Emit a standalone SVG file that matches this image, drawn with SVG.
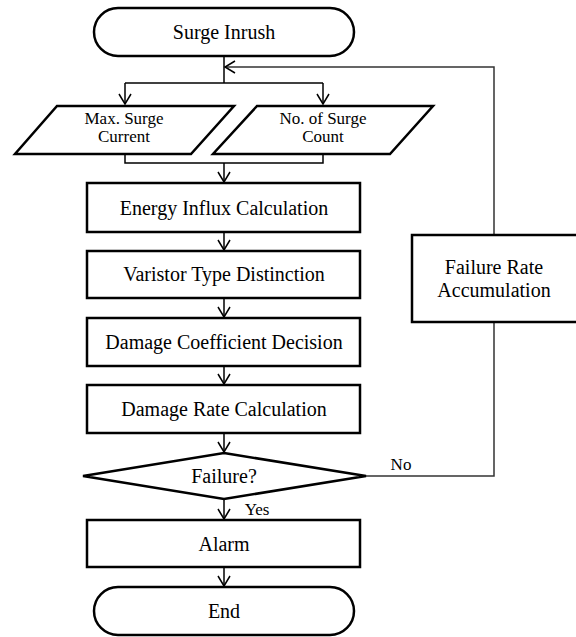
<svg xmlns="http://www.w3.org/2000/svg" width="576" height="637" viewBox="0 0 576 637" font-family="Liberation Serif, Times New Roman, serif">
<style>
.n{fill:#fff;stroke:#000;stroke-width:2.5}
text{font-family:"Liberation Serif","Times New Roman",Times,serif}
.t{font-size:20px;fill:#000;text-anchor:middle}
.s{font-size:17px}
.c{fill:none;stroke:#000;stroke-width:1.5}
.g{fill:none;stroke:#333;stroke-width:1.5}
</style>
<defs>
<marker id="a" markerWidth="14" markerHeight="14" refX="11" refY="7" orient="auto" markerUnits="userSpaceOnUse">
<path d="M1,1 L11,7 L1,13" fill="none" stroke="#000" stroke-width="1.5"/>
</marker>
</defs>
<rect width="576" height="637" fill="#fff"/>
<g id="connectors">
<path class="c" d="M224,56 V83"/>
<path class="c" d="M125,83 H323"/>
<path class="c" d="M125,83 V104" marker-end="url(#a)"/>
<path class="c" d="M323,83 V104" marker-end="url(#a)"/>
<path class="c" d="M125,154 V163 H323 V154"/>
<path class="c" d="M224,163 V182" marker-end="url(#a)"/>
<path class="c" d="M224,232 V250" marker-end="url(#a)"/>
<path class="c" d="M224,298 V317" marker-end="url(#a)"/>
<path class="c" d="M224,366 V384" marker-end="url(#a)"/>
<path class="c" d="M224,433 V452" marker-end="url(#a)"/>
<path class="c" d="M224,499 V519" marker-end="url(#a)"/>
<path class="c" d="M224,567 V586" marker-end="url(#a)"/>
<path class="g" d="M366,476 H494 V322"/>
<path class="g" d="M494,235 V67 H225" marker-end="url(#a)"/>
<text class="t" x="401" y="470" style="font-size:17px">No</text>
<text class="t" x="257" y="515" style="font-size:17px">Yes</text>
</g>
<g id="start"><rect class="n" x="94" y="8" width="260" height="48" rx="24"/><text class="t" x="224" y="39">Surge Inrush</text></g>
<g id="max"><polygon class="n" points="57,106 234,106 191,154 15,154"/><text class="t s" x="124" y="124">Max. Surge</text><text class="t s" x="124" y="142">Current</text></g>
<g id="count"><polygon class="n" points="257,106 433,106 390,154 213,154"/><text class="t s" x="323" y="124">No. of Surge</text><text class="t s" x="323" y="142">Count</text></g>
<g id="energy"><rect class="n" x="87" y="183" width="273" height="49"/><text class="t" x="224" y="215">Energy Influx Calculation</text></g>
<g id="varistor"><rect class="n" x="87" y="251" width="273" height="47"/><text class="t" x="224" y="281">Varistor Type Distinction</text></g>
<g id="coef"><rect class="n" x="87" y="318" width="273" height="48"/><text class="t" x="224" y="349">Damage Coefficient Decision</text></g>
<g id="rate"><rect class="n" x="87" y="385" width="273" height="48"/><text class="t" x="224" y="416">Damage Rate Calculation</text></g>
<g id="failure"><polygon class="n" points="224,453 366,476 224,499 83,476"/><text class="t" x="224" y="483">Failure?</text></g>
<g id="accum"><rect class="n" x="412" y="235" width="166" height="87"/><text class="t" x="494" y="274">Failure Rate</text><text class="t" x="494" y="297">Accumulation</text></g>
<g id="alarm"><rect class="n" x="87" y="520" width="273" height="47"/><text class="t" x="224" y="551">Alarm</text></g>
<g id="end"><rect class="n" x="94" y="587" width="260" height="48" rx="24"/><text class="t" x="224" y="618">End</text></g>
</svg>
